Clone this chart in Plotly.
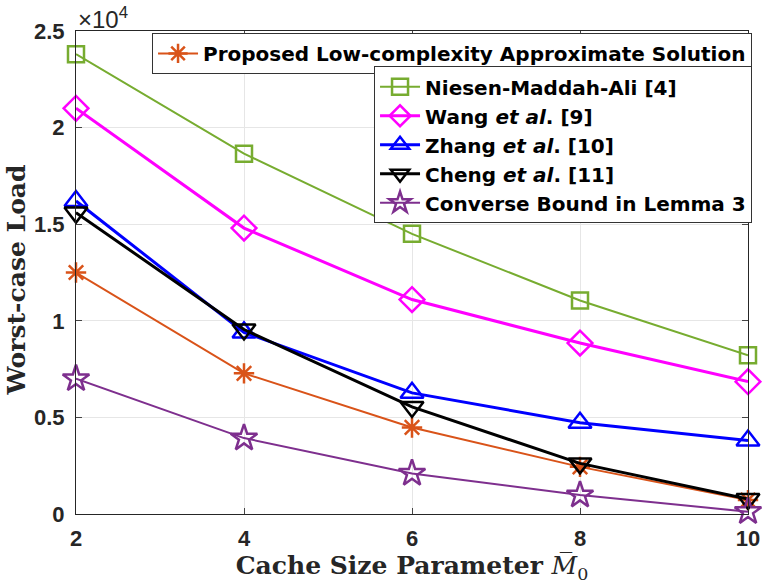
import plotly.graph_objects as go

x_vals = [2, 4, 6, 8, 10]
proposed = [12500, 7280, 4480, 2440, 720]
niesen = [23800, 18650, 14500, 11050, 8220]
wang = [21000, 14800, 11100, 8850, 6850]
zhang = [16200, 9400, 6270, 4720, 3800]
cheng = [15600, 9550, 5540, 2620, 780]
converse = [7000, 3930, 2100, 980, 120]

y_tickvals = [0, 5000, 10000, 15000, 20000, 25000]
y_ticktext = ["0", "0.5", "1", "1.5", "2", "2.5"]
x_tickvals = [2, 4, 6, 8, 10]

series = [
    ("Proposed Low-complexity Approximate Solution", proposed, "#D95319", "asterisk-open", 2, 17, "legend"),
    ("Niesen-Maddah-Ali [4]", niesen, "#77AC30", "square-open", 2, 16, "legend2"),
    ("Wang <i>et al</i>. [9]", wang, "#FF00FF", "diamond-open", 3, 19, "legend2"),
    ("Zhang <i>et al</i>. [10]", zhang, "#0000FF", "triangle-up-open", 3, 20, "legend2"),
    ("Cheng <i>et al</i>. [11]", cheng, "#000000", "triangle-down-open", 3, 20, "legend2"),
    ("Converse Bound in Lemma 3", converse, "#7E2F8E", "star-open", 2, 20, "legend2"),
]

fig = go.Figure()
for name, vals, color, sym, lw, ms, lg in series:
    fig.add_trace(go.Scatter(
        x=x_vals, y=vals, name=f"<b>{name}</b>", mode="lines+markers",
        line=dict(color=color, width=lw),
        marker=dict(symbol=sym, size=ms, color=color, line=dict(color=color, width=2.5)),
        cliponaxis=False, legend=lg, showlegend=True,
    ))

tick_font = dict(family="Liberation Sans, Arial, sans-serif", size=22, color="#262626")
title_font = dict(family="DejaVu Serif, Liberation Serif, serif", size=25, color="#262626")
legend_font = dict(family="DejaVu Sans, Liberation Sans, sans-serif", size=20, color="#000000")

fig.update_layout(
    width=778, height=584,
    margin=dict(l=76, r=30, t=31, b=70),
    paper_bgcolor="white", plot_bgcolor="white",
    showlegend=True,
    font=dict(family="Liberation Sans, Arial, sans-serif", color="#000000"),
    legend=dict(
        x=1.006, y=0.996, xanchor="right", yanchor="top",
        bgcolor="white", bordercolor="#333333", borderwidth=1,
        font=legend_font, tracegroupgap=0, itemwidth=40,
    ),
    legend2=dict(
        x=1.006, y=0.927, xanchor="right", yanchor="top",
        bgcolor="white", bordercolor="#333333", borderwidth=1,
        font=legend_font, tracegroupgap=0, itemwidth=40,
    ),
    xaxis=dict(
        range=[2, 10], tickvals=x_tickvals, ticktext=[f"<b>{v}</b>" for v in x_tickvals],
        ticks="inside", ticklen=6, tickfont=tick_font, ticklabelstandoff=5,
        showline=True, mirror="ticks", linecolor="#262626", linewidth=1,
        showgrid=True, gridcolor="#e6e6e6", zeroline=False, automargin=False,
        title=dict(text="<b>Cache Size Parameter </b><i>M&#773;</i><sub>0</sub>", font=title_font, standoff=2),
    ),
    yaxis=dict(
        range=[0, 25000], tickvals=y_tickvals, ticktext=[f"<b>{t}</b>" for t in y_ticktext],
        ticks="inside", ticklen=6, tickfont=tick_font, ticklabelstandoff=6,
        showline=True, mirror="ticks", linecolor="#262626", linewidth=1,
        showgrid=True, gridcolor="#e6e6e6", zeroline=False, automargin=False,
    ),
    annotations=[
        dict(
            text="×10<sup>4</sup>", x=0, y=1, xref="paper", yref="paper",
            xanchor="left", yanchor="bottom", showarrow=False, yshift=-4, xshift=0,
            font=dict(family="Liberation Sans, Arial, sans-serif", size=24, color="#262626"),
        ),
        dict(
            text="<b>Worst-case Load</b>", x=-0.089, y=0.484, xref="paper", yref="paper",
            xanchor="center", yanchor="middle", textangle=-90, showarrow=False,
            font=title_font,
        ),
    ],
)

fig.write_html("out.html", config={"displayModeBar": False},
               post_script="document.body.style.margin='0';")
